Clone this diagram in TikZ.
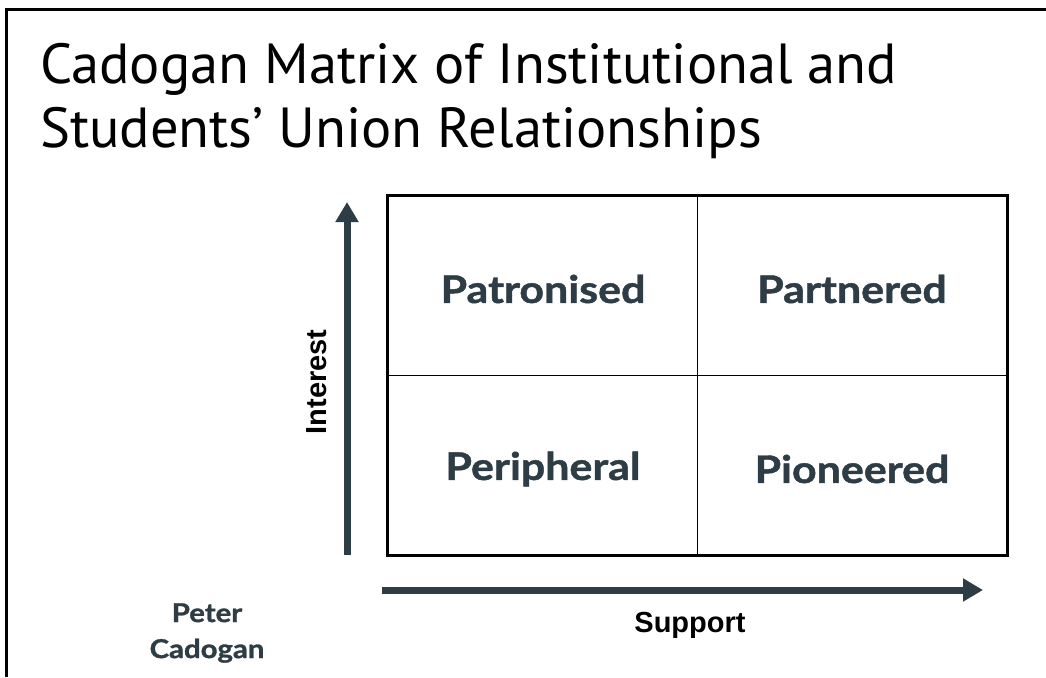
\documentclass[tikz,border=0pt]{standalone}
\usepackage{fontspec}
\setmainfont{PT Sans}
\newfontfamily\titlefont{PT Sans}
\newfontfamily\cellfont[FakeStretch=1.13,BoldFeatures={FakeBold=1.2}]{Lato}
\newfontfamily\axisfont{Liberation Sans}
\usetikzlibrary{arrows.meta}
\definecolor{slate}{HTML}{2E3D45}
\tikzset{
  cell/.style={font=\cellfont\bfseries\fontsize{38}{40}\selectfont, text=slate},
  axislabel/.style={font=\axisfont\bfseries\fontsize{29}{32}\selectfont, text=black},
  axisarrow/.style={draw=slate, line width=7pt, -{Triangle[length=20pt,width=22pt]}},
}
\begin{document}
\begin{tikzpicture}[x=1pt,y=-1pt]
\useasboundingbox (0,0) rectangle (1046,677);
\fill[white] (0,0) rectangle (1046,677);
% frame
\draw[line width=3pt] (6,677) -- (6,10) -- (1046,10);
% title
\node[anchor=base west, font=\titlefont\fontsize{56.5}{60}\selectfont, inner sep=0] (t1) at (40,84) {Cadogan Matrix of Institutional and};
\node[anchor=base west, font=\titlefont\fontsize{56.5}{60}\selectfont, inner sep=0] (t2) at (40,147) {Students’ Union Relationships};
% matrix
\coordinate (tl) at (387,195);
\coordinate (br) at (1007,555);
\draw[line width=1pt] (697,195) -- (697,555);
\draw[line width=1pt] (387,375) -- (1007,375);
\draw[line width=3pt] (tl) rectangle (br);
\node[cell] (pat) at (543,289) {Patronised};
\node[cell] (par) at (852,289) {Partnered};
\node[cell] (per) at (543,469) {Peripheral};
\node[cell] (pio) at (852,469) {Pioneered};
% axes
\coordinate (ya) at (347,555);
\coordinate (yb) at (347,202);
\draw[axisarrow] (ya) -- (yb);
\coordinate (xa) at (382,590);
\coordinate (xb) at (983,590);
\draw[axisarrow] (xa) -- (xb);
\node[axislabel, rotate=90] (int) at (317,382) {Interest};
\node[axislabel] (sup) at (690,625) {Support};
% author
\node[font=\cellfont\bfseries\fontsize{26}{36}\selectfont, text=slate, align=center] (auth) at (207,633) {Peter\\Cadogan};
\end{tikzpicture}
\end{document}
